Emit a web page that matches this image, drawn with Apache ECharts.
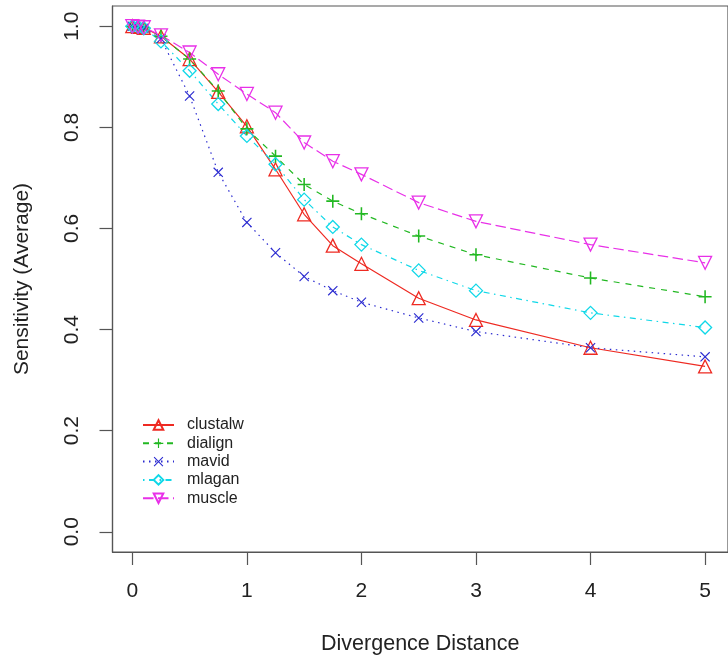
<!DOCTYPE html>
<html>
<head>
<meta charset="utf-8">
<script src="https://cdn.jsdelivr.net/npm/echarts@6/dist/echarts.min.js"></script>
<style>html,body{margin:0;padding:0;background:#fff;}#c{width:728px;height:662px;}</style>
</head>
<body>
<div id="c"></div>
<script>
// x positions (divergence distance)
const distances = [0, 0.05, 0.1, 0.25, 0.5, 0.75, 1, 1.25, 1.5, 1.75, 2, 2.5, 3, 4, 5];
// sensitivity (average) per method
const clustalw = [1.0, 0.999, 0.997, 0.98, 0.935, 0.87, 0.802, 0.717, 0.628, 0.566, 0.53, 0.462, 0.419, 0.364, 0.327];
const dialign  = [1.0, 0.999, 0.997, 0.98, 0.935, 0.872, 0.797, 0.743, 0.687, 0.654, 0.629, 0.585, 0.548, 0.502, 0.465];
const mavid    = [1.0, 0.998, 0.996, 0.975, 0.862, 0.711, 0.612, 0.552, 0.505, 0.477, 0.454, 0.423, 0.396, 0.364, 0.346];
const mlagan   = [1.0, 0.999, 0.996, 0.97, 0.912, 0.846, 0.783, 0.727, 0.657, 0.603, 0.568, 0.517, 0.477, 0.433, 0.404];
const muscle   = [1.0, 0.999, 0.998, 0.982, 0.948, 0.905, 0.866, 0.829, 0.77, 0.733, 0.707, 0.651, 0.614, 0.568, 0.532];
const methodNames = ['clustalw', 'dialign', 'mavid', 'mlagan', 'muscle'];
const xTicks = [0, 1, 2, 3, 4, 5];
const yTicks = [0, 0.2, 0.4, 0.6, 0.8, 1.0];

const values = [clustalw, dialign, mavid, mlagan, muscle];
const colors = ['#ee2a22', '#22b822', '#2a2ad0', '#10d8e8', '#e830e8'];
const dashes = ['solid', [6, 6], [1.5, 4.5], [1.5, 4.5, 6, 4.5], [10.5, 4.5]];
const PLUS = 'path://M0,4.4H10V5.6H0Z M4.4,0H5.6V10H4.4Z';
const CROSS = 'path://M0,0.8L0.8,0L10,9.2L9.2,10Z M9.2,0L10,0.8L0.8,10L0,9.2Z';
const symbols = ['triangle', PLUS, CROSS, 'diamond', 'triangle'];
const rotates = [0, 0, 0, 0, 180];
const sizes = [13, 13, 10, 13, 13];

const series = methodNames.map((n, i) => {
  const filled = (i === 1 || i === 2);
  return {
    name: n,
    type: 'line',
    data: distances.map((d, j) => [d, values[i][j]]),
    symbol: symbols[i],
    symbolRotate: rotates[i],
    symbolSize: sizes[i],
    showAllSymbol: true,
    color: colors[i],
    lineStyle: { color: colors[i], width: 1.2, type: dashes[i] },
    itemStyle: filled
      ? { color: colors[i], borderWidth: 0 }
      : { color: 'rgba(255,255,255,0)', borderColor: colors[i], borderWidth: 1.3 },
    emphasis: { disabled: true },
    animation: false
  };
});

const chart = echarts.init(document.getElementById('c'), null, { renderer: 'canvas' });
const font = 'Liberation Sans, Arial, Helvetica, sans-serif';
chart.setOption({
  backgroundColor: '#fff',
  animation: false,
  grid: { left: 112.5, right: -6, top: 6, bottom: 110, show: true, borderColor: '#555', borderWidth: 1.2, containLabel: false },
  legend: {
    orient: 'vertical', left: 137, top: 411,
    itemWidth: 31, itemHeight: 12, itemGap: 0.3,
    data: methodNames,
    textStyle: { fontFamily: font, fontSize: 16, color: '#222', lineHeight: 18, padding: [0, 0, 0, 8] },
    selectedMode: false
  },
  xAxis: {
    type: 'value', min: -0.173, max: 5.2,
    name: 'Divergence Distance', nameLocation: 'middle', nameGap: 81,
    nameTextStyle: { fontFamily: font, fontSize: 21.5, color: '#222' },
    splitLine: { show: false },
    axisLine: { show: true, onZero: false, lineStyle: { color: '#555', width: 1.2 } },
    axisTick: { show: true, length: 13, inside: false, customValues: xTicks, lineStyle: { color: '#555', width: 1.2 } },
    axisLabel: { customValues: xTicks, margin: 29, fontFamily: font, fontSize: 21, color: '#222', formatter: v => String(v) }
  },
  yAxis: {
    type: 'value', min: -0.04, max: 1.04,
    name: 'Sensitivity (Average)', nameLocation: 'middle', nameGap: 80, nameRotate: 90,
    nameTextStyle: { fontFamily: font, fontSize: 21, color: '#222' },
    splitLine: { show: false },
    axisLine: { show: true, onZero: false, lineStyle: { color: '#555', width: 1.2 } },
    axisTick: { show: true, length: 13, inside: false, customValues: yTicks, lineStyle: { color: '#555', width: 1.2 } },
    axisLabel: { customValues: yTicks, rotate: 90, margin: 30, fontFamily: font, fontSize: 21, color: '#222', formatter: v => v.toFixed(1) }
  },
  series: series
});
</script>
</body>
</html>
